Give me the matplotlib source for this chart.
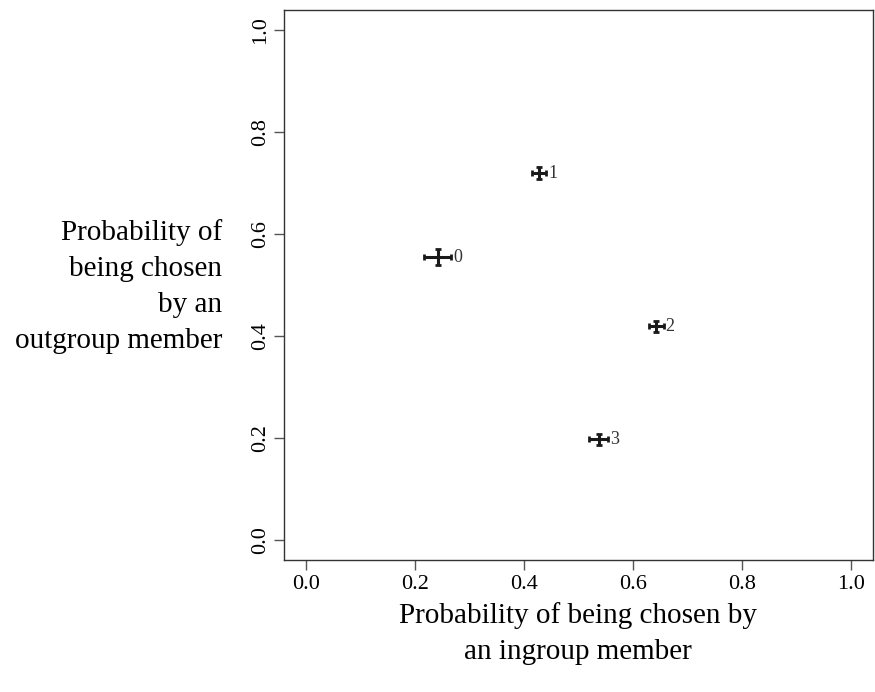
import matplotlib.pyplot as plt

plt.rcParams['font.family'] = ['Liberation Serif', 'DejaVu Serif']

# group scores: chance of being picked by ingroup vs outgroup members
groups = ['0', '1', '2', '3']
p_ingroup = [0.242, 0.428, 0.643, 0.537]
p_outgroup = [0.555, 0.720, 0.419, 0.197]
err_ingroup = [0.025, 0.013, 0.013, 0.018]
err_outgroup = [0.016, 0.011, 0.011, 0.011]

fig = plt.figure(figsize=(8.75, 6.92), dpi=100)
ax = fig.add_axes([0.3246, 0.1908, 0.6731, 0.7947])

ax.errorbar(p_ingroup, p_outgroup, xerr=err_ingroup, yerr=err_outgroup,
            fmt='none', ecolor='#1a1a1a', elinewidth=2.2, capsize=2.5, capthick=2.0)
for g, x, y, ex in zip(groups, p_ingroup, p_outgroup, err_ingroup):
    ax.annotate(g, (x + ex, y), xytext=(1.5, -0.5), textcoords='offset points',
                ha='left', va='center', fontsize=13, color='#333333')

ax.set_xlim(-0.04, 1.04)
ax.set_ylim(-0.04, 1.04)
ticks = [0.0, 0.2, 0.4, 0.6, 0.8, 1.0]
ax.set_xticks(ticks)
ax.set_yticks(ticks)
ax.set_xticklabels([f'{t:.1f}' for t in ticks], fontsize=16)
ax.set_yticklabels([f'{t:.1f}' for t in ticks], fontsize=16, rotation=90, va='center')
ax.tick_params(direction='out', length=7, width=1, color='#555555')
ax.tick_params(axis='x', pad=4)
ax.tick_params(axis='y', pad=3)
for s in ax.spines.values():
    s.set_color('#333333')
    s.set_linewidth(1)

fig.text(0.2537, 0.586, 'Probability of\nbeing chosen\nby an\noutgroup member',
         ha='right', va='center', fontsize=21, linespacing=1.5)
fig.text(0.661, 0.0845, 'Probability of being chosen by\nan ingroup member',
         ha='center', va='center', fontsize=21, linespacing=1.5)

fig.savefig('out.png', dpi=100)
